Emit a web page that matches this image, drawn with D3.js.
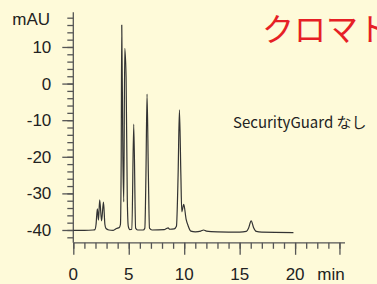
<!DOCTYPE html>
<html>
<head>
<meta charset="utf-8">
<script src="https://cdn.jsdelivr.net/npm/d3@7"></script>
<style>
html,body{margin:0;padding:0;background:#fefad9;}
svg{display:block;}
</style>
</head>
<body>
<div id="chart"></div>
<script>
// ---- data ----
const timeMin = [0, 1.0, 1.8, 1.95, 2.05, 2.17, 2.27, 2.38, 2.55, 2.72, 2.85, 2.95, 3.2, 3.6, 3.9, 4.15, 4.25, 4.32, 4.37, 4.47, 4.55, 4.64, 4.76, 4.87, 4.96, 5.1, 5.28, 5.45, 5.62, 5.8, 6.3, 6.45, 6.55, 6.65, 6.77, 6.87, 7.1, 8.2, 8.4, 8.55, 8.7, 9.1, 9.3, 9.45, 9.57, 9.7, 9.78, 9.96, 10.17, 10.35, 10.6, 11.0, 11.5, 11.75, 12.0, 13, 15, 15.6, 15.8, 16.04, 16.25, 16.5, 17, 19.85];
const signalMAU = [-40.1, -40.1, -40.0, -39.9, -38.5, -34.2, -37.3, -31.8, -37.5, -32.4, -38.5, -39.6, -40.0, -40.1, -39.6, -39.3, -38.5, -20, 16.0, -20, -32.3, 9.6, 1.8, -31.8, -39.0, -39.9, -39.8, -11.1, -39.5, -40.0, -40.0, -39.5, -25, -2.9, -25, -39.5, -40.0, -39.9, -39.6, -39.4, -39.8, -39.7, -39.0, -25, -7.2, -25, -35.0, -33.0, -37.0, -38.8, -40.3, -40.5, -40.3, -40.0, -40.3, -40.5, -40.6, -40.4, -39.5, -37.5, -39.3, -40.4, -40.6, -40.7];
const yMajorTicks = [-40, -30, -20, -10, 0, 10];
const yMinorTicks = d3.range(-42, 19, 2);
const xMajorTicks = [0, 5, 10, 15, 20, 24];
const xLabelTicks = [0, 5, 10, 15, 20];
const xMinorTicks = d3.range(0, 25, 1);
const yUnit = "mAU";
const xUnit = "min";
const titleText = "クロマト";
const noteText = "SecurityGuard なし";

// ---- chart ----
const W = 377, H = 284;
const svg = d3.select("#chart").append("svg").attr("width", W).attr("height", H);
svg.append("rect").attr("width", W).attr("height", H).attr("fill", "#fefad9");

const x = d3.scaleLinear().domain([0, 24.5]).range([73.3, 345]);
const y = d3.scaleLinear().domain([-43.5, 19.5]).range([242.8, 12.2]);

const axisColor = "#555";
const textColor = "#222";
const labelFont = "'Liberation Sans', Arial, Helvetica, sans-serif";
const labelSize = 17;
const fmt = d => String(d);

// y axis
const gy = svg.append("g").attr("transform", `translate(${x(0)},0)`);
gy.append("g").call(d3.axisLeft(y).tickValues(yMinorTicks).tickSize(6).tickFormat(""))
  .call(g => g.select(".domain").remove());
gy.append("g").call(d3.axisLeft(y).tickValues(yMajorTicks).tickSize(11).tickPadding(11).tickFormat(fmt))
  .call(g => g.select(".domain").remove());
gy.append("line").attr("x1", 0).attr("x2", 0).attr("y1", y.range()[1]).attr("y2", y.range()[0]);
gy.selectAll("line").attr("stroke", axisColor).attr("stroke-width", 1.3);
gy.selectAll("g").attr("font-size", null).attr("font-family", null);
gy.selectAll("text").style("font-family", labelFont).style("font-size", labelSize + "px").attr("fill", textColor);

// x axis
const gx = svg.append("g").attr("transform", `translate(0,${y(-43.5)})`);
gx.append("g").call(d3.axisBottom(x).tickValues(xMinorTicks).tickSize(6).tickFormat(""))
  .call(g => g.select(".domain").remove());
gx.append("g").call(d3.axisBottom(x).tickValues(xMajorTicks).tickSize(12).tickFormat(""))
  .call(g => g.select(".domain").remove());
gx.append("line").attr("x1", x.range()[0]).attr("x2", x.range()[1]).attr("y1", 0).attr("y2", 0);
gx.selectAll("line").attr("stroke", axisColor).attr("stroke-width", 1.3);
gx.selectAll(".xl").data(xLabelTicks).enter().append("text")
  .attr("x", d => x(d)).attr("y", 280 - y(-43.5)).attr("text-anchor", "middle")
  .style("font-family", labelFont).style("font-size", labelSize + "px").attr("fill", textColor)
  .text(d => d);

svg.append("text").attr("x", 331).attr("y", 280).attr("text-anchor", "middle")
  .style("font-family", labelFont).style("font-size", labelSize + "px").attr("fill", textColor).text(xUnit);
svg.append("text").attr("x", 50).attr("y", 25).attr("text-anchor", "end")
  .style("font-family", labelFont).style("font-size", labelSize + "px").attr("fill", textColor).text(yUnit);

// trace
const pts = timeMin.map((t, i) => [t, signalMAU[i]]);
const line = d3.line().x(d => x(d[0])).y(d => y(d[1])).curve(d3.curveMonotoneX);
svg.append("path").datum(pts).attr("d", line).attr("fill", "none")
  .attr("stroke", "#333").attr("stroke-width", 1.2).attr("stroke-linejoin", "round");

// texts
svg.append("text").attr("x", 262).attr("y", 41)
  .style("font-family", "'Noto Sans CJK JP', sans-serif").style("font-size", "32px")
  .attr("fill", "#e61f26").text(titleText);
svg.append("text").attr("x", 233).attr("y", 128)
  .style("font-family", "'Noto Sans CJK JP', sans-serif").style("font-size", "15px")
  .attr("fill", textColor).text(noteText);
</script>
</body>
</html>
